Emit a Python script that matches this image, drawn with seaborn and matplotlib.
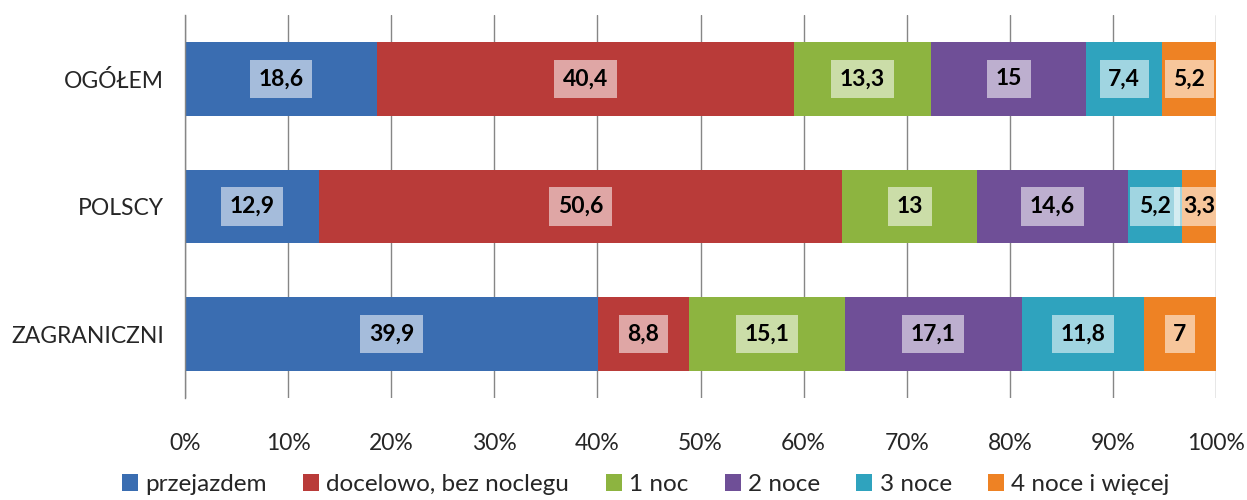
import numpy as np
import pandas as pd
import matplotlib.pyplot as plt
import seaborn as sns
from matplotlib.patches import Patch

# Data (percent shares)
categories = ['OGÓŁEM', 'POLSCY', 'ZAGRANICZNI']
series_names = ['przejazdem', 'docelowo, bez noclegu', '1 noc', '2 noce', '3 noce', '4 noce i więcej']
przejazdem = [18.6, 12.9, 39.9]
docelowo = [40.4, 50.6, 8.8]
noc_1 = [13.3, 13.0, 15.1]
noce_2 = [15.0, 14.6, 17.1]
noce_3 = [7.4, 5.2, 11.8]
noce_4 = [5.2, 3.3, 7.0]
labels = [['18,6', '12,9', '39,9'], ['40,4', '50,6', '8,8'], ['13,3', '13', '15,1'],
          ['15', '14,6', '17,1'], ['7,4', '5,2', '11,8'], ['5,2', '3,3', '7']]
tick_labels = ['0%', '10%', '20%', '30%', '40%', '50%', '60%', '70%', '80%', '90%', '100%']

colors = ['#3A6DB1', '#B93B39', '#8DB440', '#6F4F97', '#2FA3BE', '#EE8224']

sns.set_theme(style='white')
plt.rcParams['font.family'] = ['Lato', 'DejaVu Sans']

values = np.array([przejazdem, docelowo, noc_1, noce_2, noce_3, noce_4])
shares = values / values.sum(axis=0) * 100
cum = np.cumsum(shares, axis=0)

fig = plt.figure(figsize=(12.47, 5.0), dpi=100)
ax = fig.add_axes([0.1484, 0.204, 0.8268, 0.766])

# stacked bars: draw cumulative totals from the last series to the first
for i in range(len(series_names) - 1, -1, -1):
    df = pd.DataFrame({'cat': categories, 'val': cum[i]})
    sns.barplot(data=df, x='val', y='cat', orient='h', color=colors[i],
                saturation=1, width=0.575, edgecolor='none', ax=ax, zorder=2)

# value labels
for i in range(len(series_names)):
    for j in range(len(categories)):
        xc = cum[i, j] - shares[i, j] / 2
        ax.text(xc, j, labels[i][j], ha='center', va='center', fontsize=16.5,
                fontweight='bold', color='black', zorder=5,
                bbox=dict(boxstyle='square,pad=0.38', facecolor='white',
                          edgecolor='none', alpha=0.55))

ax.set_xlim(0, 100)
ax.set_ylim(2.5, -0.5)
ax.set_xticks(np.arange(0, 101, 10))
ax.set_xticklabels(tick_labels, fontsize=16.5)
ax.tick_params(axis='x', pad=25, length=0)
ax.tick_params(axis='y', pad=15, length=0, labelsize=16.5)
ax.set_xlabel('')
ax.set_ylabel('')
ax.xaxis.grid(True, color='#868686', linewidth=1)
ax.set_axisbelow(True)
for s in ['top', 'right', 'bottom']:
    ax.spines[s].set_visible(False)
ax.spines['left'].set_color('#868686')
ax.spines['left'].set_linewidth(1)

handles = [Patch(facecolor=c, edgecolor='none') for c in colors]
fig.legend(handles, series_names, loc='lower center', bbox_to_anchor=(0.518, -0.034),
           ncol=6, frameon=False, fontsize=17.5, handlelength=0.65, handleheight=0.65,
           handletextpad=0.3, columnspacing=1.5)

fig.savefig('out.png', dpi=100)
